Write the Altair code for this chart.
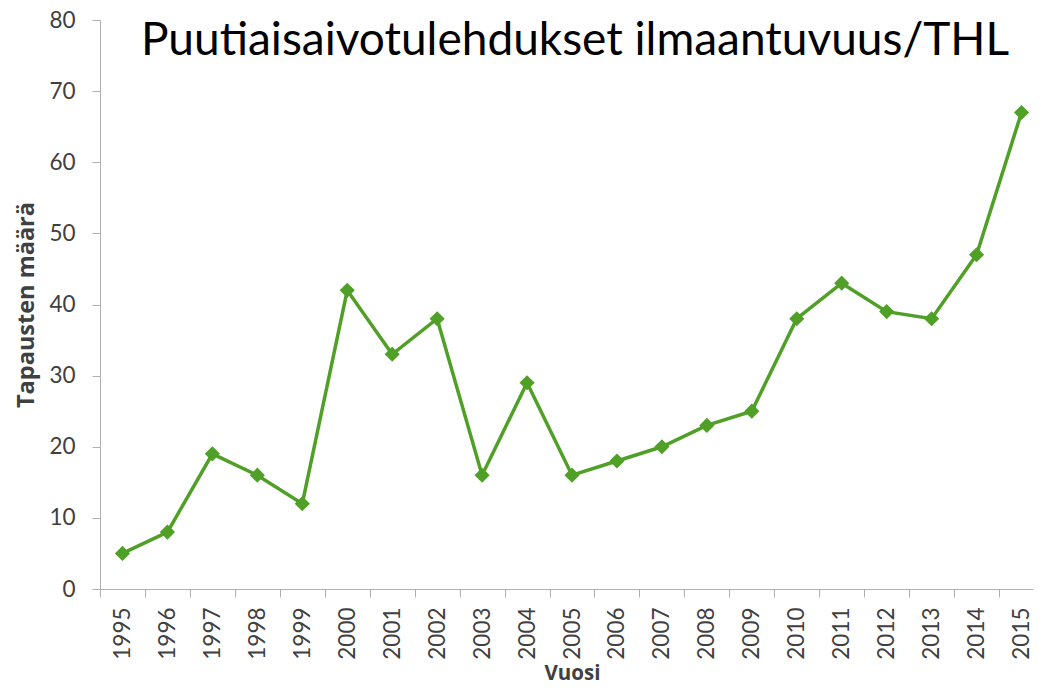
import altair as alt
import pandas as pd

years = [str(y) for y in range(1995, 2016)]
cases = [5, 8, 19, 16, 12, 42, 33, 38, 16, 29, 16, 18, 20, 23, 25, 38, 43, 39, 38, 47, 67]
title_text = ["Puutiaisaivotulehdukset ilmaantuvuus/THL"]

df = pd.DataFrame({"Vuosi": years, "Tapauksia": cases})
tdf = pd.DataFrame({"t": title_text})

GREEN = "#50A028"
FONT = "Lato"
TFONT = "Open Sans"

x = alt.X("Vuosi:O", sort=years, title="Vuosi",
          scale=alt.Scale(paddingInner=0, paddingOuter=0, range=[0, 944]),
          axis=alt.Axis(labelAngle=-90, tickBand="extent", tickSize=8,
                        labelFontSize=22.5, labelFont=FONT, labelColor="#404040",
                        labelPadding=10, titleFontSize=20.5, titleFont=TFONT,
                        titleFontWeight="bold", titleColor="#404040", titlePadding=4,
                        domainColor="#b0b0b0", tickColor="#b0b0b0", grid=False))
y = alt.Y("Tapauksia:Q", title="Tapausten määrä",
          scale=alt.Scale(domain=[0, 80], nice=False),
          axis=alt.Axis(values=list(range(0, 81, 10)), tickSize=8, grid=False,
                        labelFontSize=22.5, labelFont=FONT, labelColor="#404040",
                        labelPadding=17, titleFontSize=23.5, titleFont=TFONT,
                        titleFontWeight="bold", titleColor="#404040", titlePadding=10,
                        domainColor="#b0b0b0", tickColor="#b0b0b0"))

line = alt.Chart(df).mark_line(color=GREEN, strokeWidth=3.5).encode(x=x, y=y)
pts = alt.Chart(df).mark_point(shape="diamond", filled=True, opacity=1,
                               color=GREEN, size=230).encode(x=x, y=y)
title = alt.Chart(tdf).mark_text(font=FONT, fontSize=46, color="#000000",
                                 align="center", baseline="alphabetic").encode(
    x=alt.value(475), y=alt.value(35), text="t:N")

chart = alt.layer(line, pts, title).properties(
    width=933, height=569,
    autosize=alt.AutoSizeParams(type="none"),
    padding={"left": 92, "top": 12, "right": 0, "bottom": 99},
).configure_view(stroke=None)

chart.save("out.html", embed_options={"renderer": "svg", "actions": False})
